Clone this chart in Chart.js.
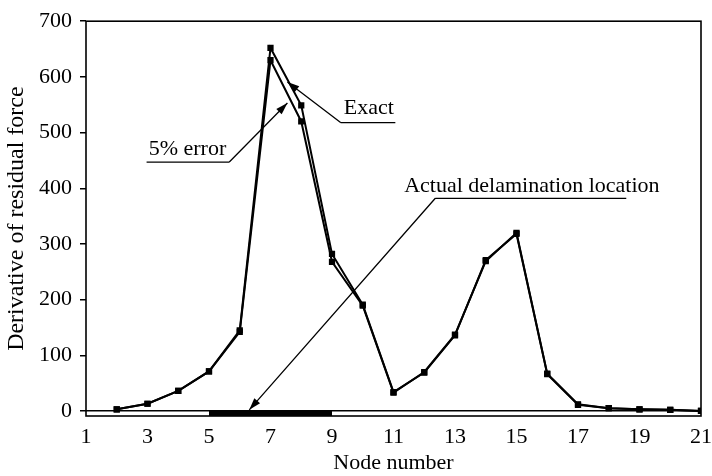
<!DOCTYPE html>
<html lang="en">
<head>
    <meta charset="UTF-8">
    <title>Derivative of residual force vs node number</title>
    <script src="https://cdn.jsdelivr.net/npm/chart.js"></script>
    <style>
        body {
            margin: 0;
            padding: 0;
            background-color: #fff;
        }
    </style>
</head>
<body>

    <canvas id="lineChart" width="712" height="476"></canvas>

    <script>
        // node numbers where the curves have points
        const nodes = [2, 3, 4, 5, 6, 7, 8, 9, 10, 11, 12, 13, 14, 15, 16, 17, 18, 19, 20, 21];
        // exact derivative of residual force
        const exactValues = [3, 13, 36, 71, 145, 652, 549, 282, 191, 34, 69, 136, 271, 318, 66, 11, 5, 3, 2, 0];
        // same thing with 5% error in the data
        const errorValues = [3, 13, 36, 71, 142, 630, 520, 268, 189, 33, 70, 137, 269, 320, 67, 12, 5, 3, 2, 0];
        // actual delamination goes from node 5 to node 9
        const delamFrom = 5;
        const delamTo = 9;
        const xTickLabels = [1, 3, 5, 7, 9, 11, 13, 15, 17, 19, 21];
        const yTickLabels = [0, 100, 200, 300, 400, 500, 600, 700];

        // callout labels (text centre, underline, arrow tip) in data units
        const callouts = [
            { text: 'Exact', tx: 10.2, ty: 544, ux1: 9.28, ux2: 11.06, uy: 518, fromX: 9.28, ax: 7.55, ay: 591 },
            { text: '5% error', tx: 4.3, ty: 470, ux1: 2.97, ux2: 5.66, uy: 447, fromX: 5.66, ax: 7.55, ay: 553 },
            { text: 'Actual delamination location', tx: 15.5, ty: 403, ux1: 12.36, ux2: 18.57, uy: 382, fromX: 12.36, ax: 6.31, ay: 2 }
        ];

        const serif = '"Liberation Serif", "Times New Roman", serif';

        function toPoints(values) {
            return nodes.map((n, i) => ({ x: n, y: values[i] }));
        }

        // frame, arrows and callout text
        const calloutPlugin = {
            id: 'callouts',
            afterDatasetsDraw(chart) {
                const { ctx, chartArea, scales } = chart;
                const x = scales.x, y = scales.y;
                ctx.save();
                ctx.strokeStyle = '#000';
                ctx.fillStyle = '#000';
                ctx.lineWidth = 1.6;
                ctx.strokeRect(chartArea.left, chartArea.top, chartArea.width, chartArea.height);

                ctx.font = '22px ' + serif;
                ctx.textAlign = 'center';
                ctx.textBaseline = 'middle';
                ctx.lineWidth = 1.3;
                callouts.forEach(c => {
                    ctx.fillText(c.text, x.getPixelForValue(c.tx), y.getPixelForValue(c.ty));
                    const uy = y.getPixelForValue(c.uy);
                    ctx.beginPath();
                    ctx.moveTo(x.getPixelForValue(c.ux1), uy);
                    ctx.lineTo(x.getPixelForValue(c.ux2), uy);
                    const sx = x.getPixelForValue(c.fromX);
                    const ex = x.getPixelForValue(c.ax), ey = y.getPixelForValue(c.ay);
                    ctx.moveTo(sx, uy);
                    ctx.lineTo(ex, ey);
                    ctx.stroke();
                    // arrow head
                    const ang = Math.atan2(ey - uy, ex - sx);
                    const len = 12, wid = 3.8;
                    ctx.beginPath();
                    ctx.moveTo(ex, ey);
                    ctx.lineTo(ex - len * Math.cos(ang) + wid * Math.sin(ang), ey - len * Math.sin(ang) - wid * Math.cos(ang));
                    ctx.lineTo(ex - len * Math.cos(ang) - wid * Math.sin(ang), ey - len * Math.sin(ang) + wid * Math.cos(ang));
                    ctx.closePath();
                    ctx.fill();
                });
                ctx.restore();
            }
        };

        function createChart() {
            const ctx = document.getElementById('lineChart').getContext('2d');
            new Chart(ctx, {
                type: 'line',
                data: {
                    datasets: [
                        {
                            label: 'Exact',
                            data: toPoints(exactValues),
                            borderColor: '#000',
                            backgroundColor: '#000',
                            borderWidth: 2,
                            pointStyle: 'rect',
                            pointRadius: 3,
                            tension: 0
                        },
                        {
                            label: '5% error',
                            data: toPoints(errorValues),
                            borderColor: '#000',
                            backgroundColor: '#000',
                            borderWidth: 2,
                            pointStyle: 'rect',
                            pointRadius: 3,
                            tension: 0
                        },
                        {
                            label: 'Actual delamination location',
                            data: [{ x: delamFrom, y: -4.5 }, { x: delamTo, y: -4.5 }],
                            borderColor: '#000',
                            borderWidth: 5,
                            borderCapStyle: 'butt',
                            pointRadius: 0
                        }
                    ]
                },
                options: {
                    responsive: false,
                    animation: false,
                    layout: { padding: { top: 15, right: 8, left: 0, bottom: 0 } },
                    plugins: {
                        legend: { display: false },
                        tooltip: { enabled: false }
                    },
                    scales: {
                        x: {
                            type: 'linear',
                            min: 1,
                            max: 21,
                            border: { display: false },
                            grid: { display: false },
                            afterBuildTicks: scale => {
                                scale.ticks = xTickLabels.map(v => ({ value: v }));
                            },
                            afterFit: scale => { scale.height = 60; },
                            ticks: {
                                color: '#000',
                                padding: 0,
                                maxRotation: 0,
                                font: { family: serif, size: 22 }
                            },
                            title: {
                                display: true,
                                text: 'Node number',
                                color: '#000',
                                padding: { top: 0, bottom: 0 },
                                font: { family: serif, size: 22 }
                            }
                        },
                        y: {
                            min: -9,
                            max: 700,
                            border: { display: false },
                            afterBuildTicks: scale => {
                                scale.ticks = yTickLabels.map(v => ({ value: v }));
                            },
                            afterFit: scale => { scale.width = 86; },
                            grid: {
                                drawOnChartArea: true,
                                color: c => (c.tick && c.tick.value === 0) ? '#000' : 'rgba(0,0,0,0)',
                                lineWidth: 1.5,
                                tickColor: '#000',
                                tickLength: 6
                            },
                            ticks: {
                                color: '#000',
                                padding: 8,
                                font: { family: serif, size: 22 }
                            },
                            title: {
                                display: true,
                                text: 'Derivative of residual force',
                                color: '#000',
                                padding: { top: 2, bottom: 0 },
                                font: { family: serif, size: 24 }
                            }
                        }
                    }
                },
                plugins: [calloutPlugin]
            });
        }

        createChart();
    </script>

</body>
</html>
